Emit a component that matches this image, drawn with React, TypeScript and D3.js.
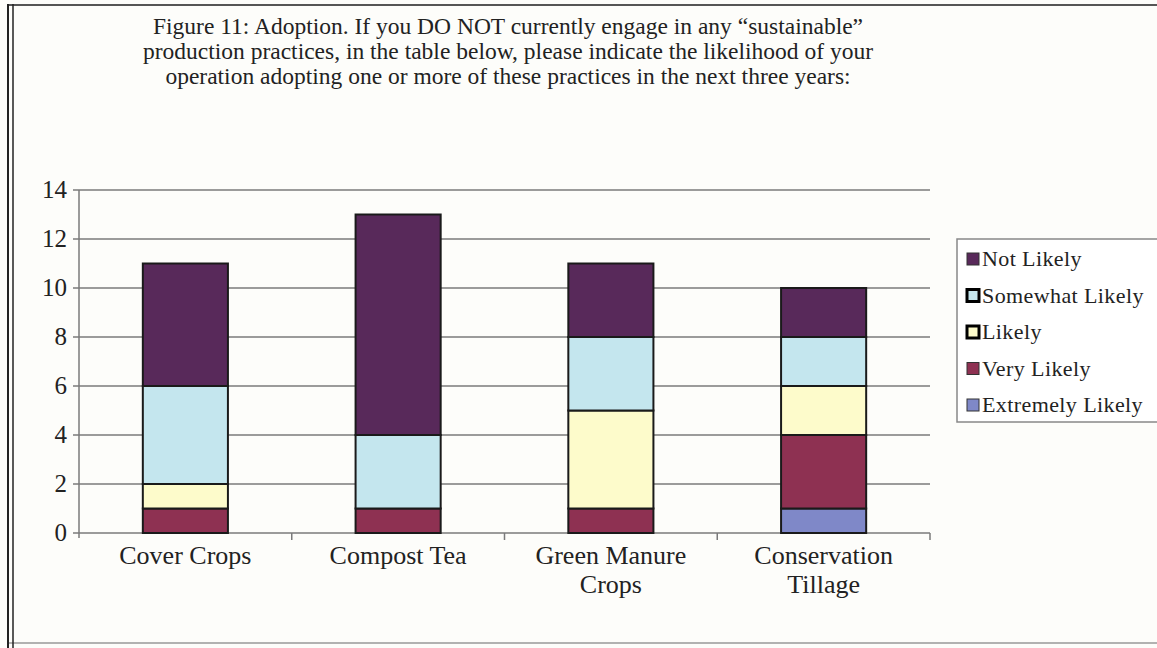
import * as d3 from "d3";

const categories = [["Cover Crops"], ["Compost Tea"], ["Green Manure", "Crops"], ["Conservation", "Tillage"]];
const seriesNames = ["Extremely Likely", "Very Likely", "Likely", "Somewhat Likely", "Not Likely"];
const extremelyLikely = [0, 0, 0, 1];
const veryLikely = [1, 1, 1, 3];
const likely = [1, 0, 4, 2];
const somewhatLikely = [4, 3, 3, 2];
const notLikely = [5, 9, 3, 2];
const seriesColors = ["#7f88c8", "#8e3152", "#fdfbcb", "#c4e6ee", "#58295a"];
const yTicks = [0, 2, 4, 6, 8, 10, 12, 14];
const titleLines = [
  "Figure 11: Adoption. If you DO NOT currently engage in any \u201csustainable\u201d",
  "production practices, in the table below, please indicate the likelihood of your",
  "operation adopting one or more of these practices in the next three years:",
];

const W = 1157;
const H = 648;
const plot = { left: 79, right: 930, top: 190, bottom: 533 };
const font = "'Liberation Serif', 'Times New Roman', serif";

export default function App() {
  const values = [extremelyLikely, veryLikely, likely, somewhatLikely, notLikely];
  const rows = categories.map((c, i) => {
    const r: Record<string, number> = { idx: i };
    seriesNames.forEach((s, k) => (r[s] = values[k][i]));
    return r;
  });
  const stacked = d3.stack<Record<string, number>>().keys(seriesNames)(rows);

  const x = d3
    .scaleBand<number>()
    .domain(categories.map((_, i) => i))
    .range([plot.left, plot.right])
    .paddingInner(0)
    .paddingOuter(0);
  const y = d3.scaleLinear().domain([0, 14]).range([plot.bottom, plot.top]);
  const barW = x.bandwidth() * 0.4;

  const legendOrder = [...seriesNames].reverse();
  const legendY = d3.scalePoint<string>().domain(legendOrder).range([259, 405]);

  return (
    <svg width={W} height={H} style={{ position: "absolute", left: 0, top: 0, background: "#fdfdfa" }}>
      {/* frame */}
      <line x1={8} x2={W} y1={5} y2={5} stroke="#555" strokeWidth={2} />
      <line x1={8} x2={W} y1={643} y2={643} stroke="#999" strokeWidth={1.5} />
      <line x1={8} x2={8} y1={4} y2={H} stroke="#222" strokeWidth={2} />
      <line x1={13} x2={13} y1={4} y2={H} stroke="#222" strokeWidth={1.5} />

      {/* title */}
      {titleLines.map((t, i) => (
        <text key={i} x={508} y={34 + i * 25} textAnchor="middle" fontFamily={font} fontSize={23.5} fill="#222">
          {t}
        </text>
      ))}

      {/* gridlines + y axis */}
      {yTicks.map((t) => (
        <g key={t}>
          <line x1={plot.left - 6} x2={plot.right} y1={y(t)} y2={y(t)} stroke="#7a7a7a" strokeWidth={1.5} />
          <text x={67} y={y(t) + 8} textAnchor="end" fontFamily={font} fontSize={25} fill="#222">
            {t}
          </text>
        </g>
      ))}
      <line x1={plot.left} x2={plot.left} y1={plot.top} y2={plot.bottom + 5} stroke="#7a7a7a" strokeWidth={1.5} />
      {categories.map((_, i) => (
        <line
          key={i}
          x1={x(i)! + x.bandwidth()}
          x2={x(i)! + x.bandwidth()}
          y1={plot.bottom}
          y2={plot.bottom + 7}
          stroke="#7a7a7a"
          strokeWidth={1.5}
        />
      ))}

      {/* bars */}
      {stacked.map((layer, k) =>
        layer.map((d, i) =>
          d[1] - d[0] > 0 ? (
            <rect
              key={`${k}-${i}`}
              x={x(i)! + (x.bandwidth() - barW) / 2}
              y={y(d[1])}
              width={barW}
              height={y(d[0]) - y(d[1])}
              fill={seriesColors[k]}
              stroke="#1a1a1a"
              strokeWidth={2}
            />
          ) : null
        )
      )}

      {/* category labels */}
      {categories.map((lines, i) =>
        lines.map((l, j) => (
          <text
            key={`${i}-${j}`}
            x={x(i)! + x.bandwidth() / 2}
            y={564 + j * 29}
            textAnchor="middle"
            fontFamily={font}
            fontSize={26}
            fill="#222"
          >
            {l}
          </text>
        ))
      )}

      {/* legend */}
      <rect x={957} y={239} width={210} height={183} fill="#fff" stroke="#888" strokeWidth={1.5} />
      {legendOrder.map((s) => {
        const k = seriesNames.indexOf(s);
        const cy = legendY(s)!;
        const outlined = s === "Somewhat Likely" || s === "Likely";
        return (
          <g key={s}>
            <rect
              x={967}
              y={cy - 6}
              width={12}
              height={12}
              fill={seriesColors[k]}
              stroke={outlined ? "#000" : "#333"}
              strokeWidth={outlined ? 3 : 1}
            />
            <text x={982} y={cy + 7} fontFamily={font} fontSize={22} letterSpacing={0.4} fill="#222">
              {s}
            </text>
          </g>
        );
      })}
    </svg>
  );
}
